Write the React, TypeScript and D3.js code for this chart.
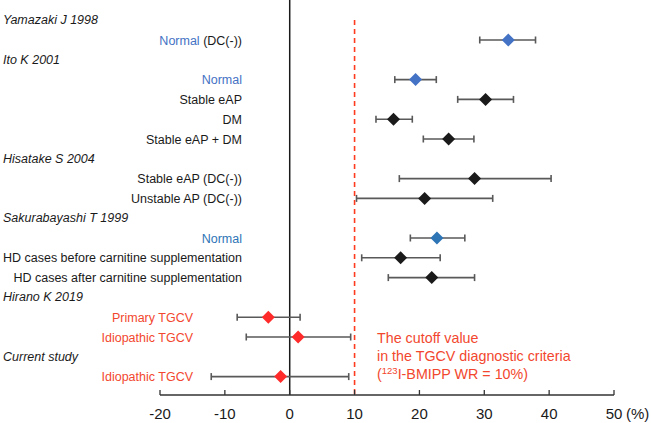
import React from "react";
import * as d3 from "d3";

const rowLabels = [
  "Yamazaki J 1998", "Normal", "Ito K 2001", "Normal", "Stable eAP", "DM", "Stable eAP + DM",
  "Hisatake S 2004", "Stable eAP (DC(-))", "Unstable AP (DC(-))", "Sakurabayashi T 1999", "Normal",
  "HD cases before carnitine supplementation", "HD cases after carnitine supplementation",
  "Hirano K 2019", "Primary TGCV", "Idiopathic TGCV", "Current study", "Idiopathic TGCV",
];
const rowKinds = ["h", "blue1", "h", "blue1", "k", "k", "k", "h", "k", "k", "h", "blue2", "k", "k", "h", "red", "red", "h", "red"];
const means = [null, 33.7, null, 19.4, 30.2, 16.0, 24.5, null, 28.5, 20.8, null, 22.7, 17.1, 21.9, null, -3.3, 1.3, null, -1.4];
const lows = [null, 29.3, null, 16.2, 25.9, 13.3, 20.6, null, 16.9, 10.3, null, 18.6, 11.1, 15.2, null, -8.1, -6.7, null, -12.1];
const highs = [null, 37.9, null, 22.6, 34.5, 18.9, 28.4, null, 40.3, 31.3, null, 27.0, 23.2, 28.5, null, 1.6, 9.4, null, 9.1];
const xTicks = [-20, -10, 0, 10, 20, 30, 40, 50];
const cutoff = 10;
const cutoffText = ["The cutoff value", "in the TGCV diagnostic criteria"];

const colors: Record<string, string> = {
  blue1: "#4472C4",
  blue2: "#2E75B6",
  red: "#FF2B2B",
  k: "#1A1A1A",
};
const textColors: Record<string, string> = {
  blue1: "#4472C4",
  blue2: "#2E75B6",
  red: "#F2472E",
  k: "#1A1A1A",
};

export default function App() {
  const W = 651, H = 423;
  const x = d3.scaleLinear().domain([-20, 50]).range([160, 614]);
  const y = d3.scaleLinear().domain([0, 1]).range([20.2, 40]);
  const axisY = 395;
  const font = "'Liberation Sans', Arial, sans-serif";
  const dpath = (cx: number, cy: number, r: number) =>
    `M${cx},${cy - r}L${cx + r},${cy}L${cx},${cy + r}L${cx - r},${cy}Z`;
  const red = "#F2472E";

  return (
    <svg width={W} height={H} style={{ position: "absolute", left: 0, top: 0, background: "#fff" }} fontFamily={font}>
      {/* zero line */}
      <line x1={x(0)} x2={x(0)} y1={0} y2={axisY} stroke="#1a1a1a" strokeWidth={1.5} />
      {/* cutoff line */}
      <line x1={x(cutoff)} x2={x(cutoff)} y1={20} y2={axisY} stroke="#FF3B1F" strokeWidth={1.6} strokeDasharray="5,4" />
      {/* x axis */}
      <line x1={x(-20)} x2={x(50)} y1={axisY} y2={axisY} stroke="#333" strokeWidth={1.3} />
      {xTicks.map((t) => (
        <g key={t}>
          <line x1={x(t)} x2={x(t)} y1={axisY} y2={axisY - 5} stroke="#333" strokeWidth={1.3} />
          <text x={x(t)} y={axisY + 24} textAnchor="middle" fontSize={15} fill="#1a1a1a">{t}</text>
        </g>
      ))}
      <text x={x(50) + 12} y={axisY + 24} fontSize={15} fill="#1a1a1a">(%)</text>
      {/* labels */}
      {rowLabels.map((lab, i) => {
        const kind = rowKinds[i];
        if (kind === "h") {
          return (
            <text key={i} x={3} y={y(i) + 4} fontSize={12.5} fontStyle="italic" fill="#1a1a1a">{lab}</text>
          );
        }
        return (
          <text key={i} x={kind === "red" ? 193 : 242} y={y(i) + 4.5} fontSize={12.5} textAnchor="end" fill={textColors[kind]}>
            {lab}
            {i === 1 ? <tspan fill="#1a1a1a"> (DC(-))</tspan> : null}
          </text>
        );
      })}
      {/* error bars and diamonds */}
      {means.map((m, i) => {
        if (m === null) return null;
        const lo = lows[i] as number, hi = highs[i] as number;
        const cy = y(i);
        return (
          <g key={i}>
            <line x1={x(lo)} x2={x(hi)} y1={cy} y2={cy} stroke="#595959" strokeWidth={1.6} />
            <line x1={x(lo)} x2={x(lo)} y1={cy - 3.5} y2={cy + 3.5} stroke="#595959" strokeWidth={1.6} />
            <line x1={x(hi)} x2={x(hi)} y1={cy - 3.5} y2={cy + 3.5} stroke="#595959" strokeWidth={1.6} />
            <path d={dpath(x(m), cy, 6.5)} fill={colors[rowKinds[i]]} />
          </g>
        );
      })}
      {/* cutoff annotation */}
      <g fill={red} fontSize={14.3}>
        <text x={377} y={343}>{cutoffText[0]}</text>
        <text x={377} y={361}>{cutoffText[1]}</text>
        <text x={377} y={378.5}>
          (<tspan fontSize={9.5} dy={-5}>123</tspan>
          <tspan dy={5}>I-BMIPP WR = 10%)</tspan>
        </text>
      </g>
    </svg>
  );
}
